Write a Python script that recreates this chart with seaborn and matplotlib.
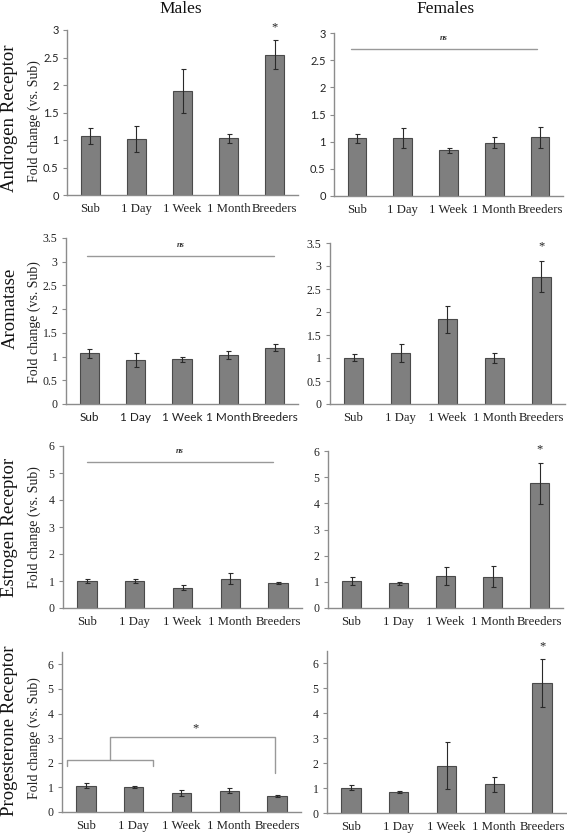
import matplotlib
matplotlib.use("Agg")
import matplotlib.pyplot as plt
import seaborn as sns
import pandas as pd

sns.set_theme(style="white")

categories = ["Sub", "1 Day", "1 Week", "1 Month", "Breeders"]

# Androgen receptor
ar_male = [1.07, 1.02, 1.90, 1.03, 2.55]
ar_male_err = [0.15, 0.24, 0.40, 0.08, 0.26]
ar_female = [1.06, 1.07, 0.84, 0.98, 1.08]
ar_female_err = [0.08, 0.18, 0.04, 0.10, 0.19]
# Aromatase
aro_male = [1.07, 0.93, 0.94, 1.03, 1.19]
aro_male_err = [0.10, 0.14, 0.05, 0.09, 0.08]
aro_female = [1.01, 1.11, 1.84, 1.00, 2.77]
aro_female_err = [0.07, 0.19, 0.30, 0.10, 0.34]
# Estrogen receptor
er_male = [1.00, 1.00, 0.75, 1.08, 0.92]
er_male_err = [0.06, 0.07, 0.10, 0.20, 0.04]
er_female = [1.04, 0.95, 1.22, 1.20, 4.77]
er_female_err = [0.15, 0.06, 0.36, 0.40, 0.78]
# Progesterone receptor
pr_male = [1.07, 1.03, 0.78, 0.86, 0.65]
pr_male_err = [0.10, 0.04, 0.12, 0.10, 0.05]
pr_female = [1.02, 0.84, 1.90, 1.15, 5.22]
pr_female_err = [0.10, 0.04, 0.95, 0.30, 0.95]

row_labels = ["Androgen Receptor", "Aromatase", "Estrogen Receptor", "Progesterone Receptor"]
col_titles = ["Males", "Females"]
y_label = "Fold change (vs. Sub)"

SERIF = ["Liberation Serif", "DejaVu Serif"]
SANS = ["Lato", "DejaVu Sans"]

W, H = 567, 835
fig = plt.figure(figsize=(W / 100, H / 100), dpi=100)

def px_axes(left, top, right, bottom):
    return fig.add_axes([left / W, 1 - bottom / H, (right - left) / W, (bottom - top) / H])

BAR = "#7f7f7f"
EDGE = "#4a4a4a"
SPINE = "#8c8c8c"

def panel(ax, vals, errs, ymax, ticks, ticklabels, yfont, xfont):
    df = pd.DataFrame({"cat": categories, "val": vals})
    sns.barplot(data=df, x="cat", y="val", color=BAR, saturation=1, width=0.41,
                edgecolor=EDGE, linewidth=0.8, errorbar=None, ax=ax)
    ax.errorbar(range(len(vals)), vals, yerr=errs, fmt="none", ecolor="#2a2a2a",
                elinewidth=0.8, capsize=1.8, capthick=0.8)
    ax.set_xlim(-0.5, 4.5)
    ax.set_ylim(0, ymax)
    ax.set_yticks(ticks)
    ysize = 8 if yfont is SANS else 8.5
    xsize = 8.5 if xfont is SANS else 9.2
    ax.set_yticklabels(ticklabels, fontfamily=yfont, fontsize=ysize, color="#222")
    ax.set_xticks(range(5))
    ax.set_xticklabels(categories, fontfamily=xfont, fontsize=xsize, color="#222")
    ax.set_xlabel("")
    ax.set_ylabel("")
    for s in ["top", "right"]:
        ax.spines[s].set_visible(False)
    for s in ["left", "bottom"]:
        ax.spines[s].set_color(SPINE)
        ax.spines[s].set_linewidth(1.0)
    ax.tick_params(axis="x", length=0, pad=6)
    ax.tick_params(axis="y", length=3, width=0.8, color=SPINE, pad=3, left=True)
    ax.patch.set_alpha(0)

def ns_line(ax, x0, x1, y, ty):
    ax.plot([x0, x1], [y, y], color="#999999", lw=1.0, clip_on=False)
    ax.text((x0 + x1) / 2, ty, "ns", ha="center", va="center", fontsize=6,
            fontstyle="italic", fontweight="bold", fontfamily=SERIF, color="#333")

def star(ax, x, y):
    ax.text(x, y, "*", ha="center", va="center", fontsize=9, fontfamily=SERIF, color="#222")

t3 = [0, 0.5, 1, 1.5, 2, 2.5, 3]
l3 = ["0", "0.5", "1", "1.5", "2", "2.5", "3"]
t35 = t3 + [3.5]
l35 = l3 + ["3.5"]
t6 = [0, 1, 2, 3, 4, 5, 6]
l6 = [str(v) for v in t6]

# Row 1
ax1 = px_axes(67, 30, 298, 195)
panel(ax1, ar_male, ar_male_err, 3, t3, l3, SANS, SERIF)
star(ax1, 4, 3.05)
ax2 = px_axes(334, 33, 563, 196)
panel(ax2, ar_female, ar_female_err, 3, t3, l3, SANS, SERIF)
ns_line(ax2, -0.12, 3.93, 2.7, 2.9)

# Row 2
ax3 = px_axes(66, 238, 298, 404)
panel(ax3, aro_male, aro_male_err, 3.5, t35, l35, SERIF, SANS)
ns_line(ax3, -0.04, 3.98, 3.12, 3.35)
ax4 = px_axes(330, 243, 565, 404)
panel(ax4, aro_female, aro_female_err, 3.5, t35, l35, SERIF, SERIF)
star(ax4, 4, 3.43)

# Row 3
ax5 = px_axes(63, 446, 302, 608)
panel(ax5, er_male, er_male_err, 6, t6, l6, SERIF, SERIF)
ns_line(ax5, 0.0, 3.9, 5.4, 5.8)
ax6 = px_axes(328, 451, 563, 608)
panel(ax6, er_female, er_female_err, 6, t6, l6, SERIF, SERIF)
star(ax6, 4, 6.05)

# Row 4
ax7 = px_axes(62, 652, 301, 812)
panel(ax7, pr_male, pr_male_err, 6.5, t6, l6, SERIF, SERIF)
br = "#999999"
ax7.plot([-0.4, -0.4, 1.4, 1.4], [1.85, 2.1, 2.1, 1.85], color=br, lw=1.0)
ax7.plot([0.5, 0.5, 3.96, 3.96], [2.1, 3.05, 3.05, 1.6], color=br, lw=1.0)
star(ax7, 2.3, 3.4)
ax8 = px_axes(327, 651, 566, 813)
panel(ax8, pr_female, pr_female_err, 6.5, t6, l6, SERIF, SERIF)
star(ax8, 4, 6.7)

# Column titles
fig.text(181 / W, 1 - 9 / H, col_titles[0], ha="center", va="center", fontsize=12.5, fontfamily=SERIF, color="#111")
fig.text(446 / W, 1 - 9 / H, col_titles[1], ha="center", va="center", fontsize=12.5, fontfamily=SERIF, color="#111")

# Row labels and y labels
row_centers = [118, 308, 527, 731]
ylab_centers = [121, 322, 527, 738]
for lab, rc, yc in zip(row_labels, row_centers, ylab_centers):
    fig.text(10 / W, 1 - rc / H, lab, rotation=90, ha="center", va="center",
             fontsize=13.5, fontfamily=SERIF, color="#111")
    fig.text(34 / W, 1 - yc / H, y_label, rotation=90, ha="center", va="center",
             fontsize=10, fontfamily=SERIF, color="#222")

fig.savefig("out.png", dpi=100, facecolor="white")
